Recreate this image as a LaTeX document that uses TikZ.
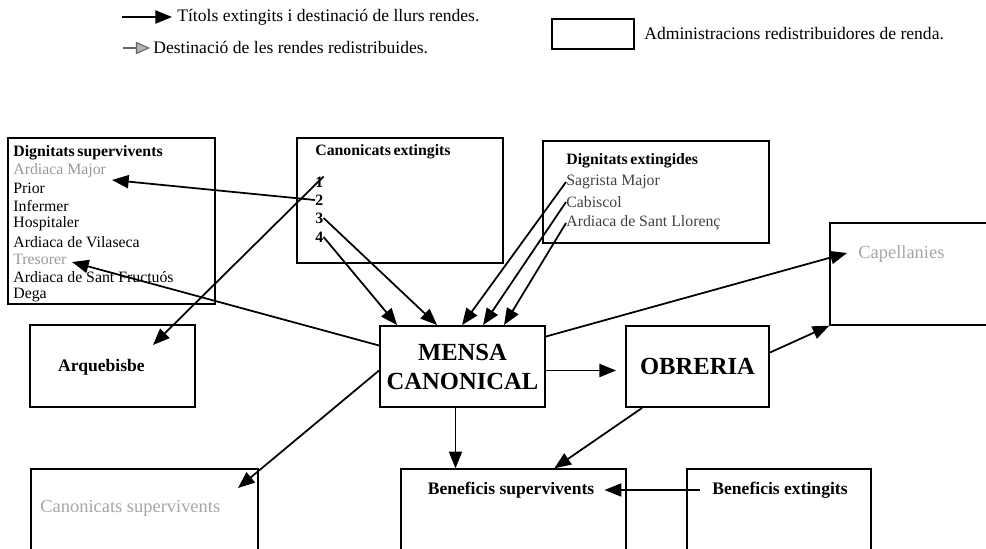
\documentclass[tikz,border=0pt]{standalone}
\usepackage{fontspec}
\setmainfont{Liberation Serif}
\usetikzlibrary{arrows.meta}

\begin{document}
\begin{tikzpicture}[x=0.02cm,y=-0.02cm,
    box/.style={draw, line width=0.8pt, inner sep=0pt},
    gran/.style={draw, line width=1.1pt, inner sep=0pt, align=center, font=\fontsize{14}{16.5}\selectfont\bfseries},
    item/.style={anchor=west, inner sep=0pt, font=\fontsize{9}{10}\selectfont},
    tit/.style={anchor=west, inner sep=0pt, font=\fontsize{9}{10}\selectfont\bfseries},
    nom/.style={inner sep=0pt, font=\fontsize{10}{12}\selectfont\bfseries},
    llei/.style={anchor=west, inner sep=0pt, font=\fontsize{10}{12}\selectfont},
    fl/.style={-{Triangle[length=9.5pt,width=7.5pt]}, line width=1pt},
    fina/.style={-{Triangle[length=9.5pt,width=7.5pt]}, line width=0.6pt},
    esvait/.style={anchor=west, inner sep=0pt, text=black!35, font=\fontsize{10.5}{12}\selectfont}]

    \path[use as bounding box, clip] (0,0) rectangle (986,548);

    % llegenda
    \coordinate (L1a) at (122,17);
    \coordinate (L1b) at (172,17);
    \coordinate (L2a) at (123,48);
    \coordinate (L2b) at (150,48);
    \node[llei] (L1) at (177,17) {Títols extingits i destinació de llurs rendes.};
    \node[llei] (L2) at (153,48) {Destinació de les rendes redistribuides.};
    \node[box, minimum width=1.64cm, minimum height=0.6cm] (L3) at (593,34) {};
    \node[llei] (L3t) at (644,34) {Administracions redistribuidores de renda.};
    \draw[fl] (L1a) -- (L1b);
    \draw[line width=0.6pt, black!60, -{Triangle[length=8pt,width=7pt,fill=black!30]}] (L2a) -- (L2b);

    % caixes
    \node[box, minimum width=4.14cm, minimum height=3.32cm] (dsup) at (111.5,221) {};
    \node[tit] (ds0) at (13,153) {Dignitats\,supervivents};
    \foreach \t/\c [count=\i] in {Ardiaca Major/black!40, Prior/black, Infermer/black, Hospitaler/black,
        Ardiaca de Vilaseca/black, Tresorer/black!40, Ardiaca de Sant Fructuós/black, Dega/black}
        \node[item, text=\c] (ds\i) at (13,153+17.75*\i) {\t};

    \node[box, minimum width=4.12cm, minimum height=2.5cm] (cext) at (400,200.5) {};
    \node[tit] (c0) at (315,152) {Canonicats\,extingits};
    \foreach \i/\y in {1/182, 2/200, 3/218, 4/237}
        \node[tit] (c\i) at (315,\y) {\i};

    \node[box, minimum width=4.52cm, minimum height=2.04cm] (dext) at (656,192) {};
    \node[tit] (de0) at (566,161) {Dignitats\,extingides};
    \node[item, text=black!75] (de1) at (566,182) {Sagrista Major};
    \node[item, text=black!75] (de2) at (566,202) {Cabiscol};
    \node[item, text=black!75] (de3) at (566,223) {Ardiaca de Sant Llorenç};

    \node[box, minimum width=3.3cm, minimum height=2.04cm] (capel) at (912.5,274) {};
    \node[esvait] (capelt) at (858,254) {Capellanies};

    \node[box, minimum width=3.3cm, minimum height=1.64cm] (arq) at (112.5,366) {};
    \node[nom] (arqt) at (101.5,367) {Arquebisbe};

    \node[gran, minimum width=3.3cm, minimum height=1.62cm] (mensa) at (462.5,366.5) {MENSA\\CANONICAL};
    \node[gran, minimum width=2.86cm, minimum height=1.62cm] (obr) at (697.5,366.5) {OBRERIA};

    \node[box, minimum width=4.54cm, minimum height=2.02cm] (csup) at (144.5,519.5) {};
    \node[esvait] (csupt) at (40,508) {Canonicats supervivents};
    \node[box, minimum width=4.5cm, minimum height=2.02cm] (bsup) at (513.5,519.5) {};
    \node[nom] (bsupt) at (511,490) {Beneficis supervivents};
    \node[box, minimum width=3.68cm, minimum height=2.02cm] (bext) at (779,519.5) {};
    \node[nom] (bextt) at (780,490) {Beneficis extingits};

    % puntes de fletxa lliures
    \coordinate (tMaj) at (112,180);
    \coordinate (tArq) at (153,345);
    \coordinate (tTre) at (72,262);
    \coordinate (tCsup) at (238,488);
    \coordinate (tCap) at (847,253);
    \coordinate (mb) at ([shift={(-7,0)}]mensa.south);

    % fletxes
    \draw[fl] (c2.west) -- (tMaj);
    \draw[fl] (c1.north east) -- (tArq);
    \draw[fl] (c3.east) -- ([shift={(58,0)}]mensa.north west);
    \draw[fl] (c4.east) -- ([shift={(18,0)}]mensa.north west);
    \draw[fl] (de1.west) -- ([shift={(83,0)}]mensa.north west);
    \draw[fl] (de2.west) -- ([shift={(104,0)}]mensa.north west);
    \draw[fl] (de3.west) -- ([shift={(125,0)}]mensa.north west);
    \draw[fl] ([shift={(0,-21)}]mensa.west) -- (tTre);
    \draw[fl] ([shift={(0,4)}]mensa.west) -- (tCsup);
    \draw[fl] ([shift={(0,-30)}]mensa.east) -- (tCap);
    \draw[fl] ([shift={(0,4)}]mensa.east) -- ([shift={(-9,4)}]obr.west);
    \draw[fina] (mb) -- (mb |- bsup.north);
    \draw[fl] ([shift={(17,0)}]obr.south west) -- ([shift={(154,0)}]bsup.north west);
    \draw[fl] ([shift={(0,-14)}]obr.east) -- (capel.south west);
    \draw[fina] ([shift={(-12,0)}]bextt.west) -- ([shift={(10,0)}]bsupt.east);

\end{tikzpicture}
\end{document}
